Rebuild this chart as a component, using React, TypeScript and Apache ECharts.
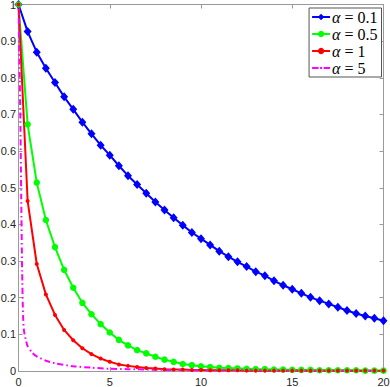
import React, { useEffect, useRef } from "react";
import * as echarts from "echarts";

const xHalf = [0, 0.5, 1, 1.5, 2, 2.5, 3, 3.5, 4, 4.5, 5, 5.5, 6, 6.5, 7, 7.5, 8, 8.5, 9, 9.5, 10, 10.5, 11, 11.5, 12, 12.5, 13, 13.5, 14, 14.5, 15, 15.5, 16, 16.5, 17, 17.5, 18, 18.5, 19, 19.5, 20];

const blueY = [1, 0.926, 0.87, 0.826, 0.787, 0.748, 0.714, 0.679, 0.647, 0.616, 0.589, 0.56, 0.533, 0.509, 0.485, 0.461, 0.439, 0.418, 0.398, 0.378, 0.361, 0.344, 0.327, 0.312, 0.298, 0.285, 0.271, 0.26, 0.246, 0.234, 0.223, 0.212, 0.201, 0.192, 0.183, 0.174, 0.165, 0.157, 0.15, 0.144, 0.137];

const greenY = [1, 0.673, 0.514, 0.412, 0.338, 0.276, 0.227, 0.186, 0.155, 0.128, 0.105, 0.085, 0.07, 0.057, 0.048, 0.039, 0.031, 0.025, 0.019, 0.016, 0.013, 0.011, 0.009, 0.008, 0.007, 0.006, 0.005, 0.005, 0.004, 0.004, 0.003, 0.003, 0.003, 0.002, 0.002, 0.002, 0.002, 0.002, 0.001, 0.001, 0.001];

const redY = [1, 0.464, 0.292, 0.209, 0.153, 0.112, 0.084, 0.062, 0.046, 0.034, 0.025, 0.018, 0.014, 0.011, 0.008, 0.007, 0.005, 0.004, 0.004, 0.003, 0.003, 0.002, 0.002, 0.002, 0.002, 0.001, 0.001, 0.001, 0.001, 0.001, 0.001, 0.001, 0.001, 0.001, 0.001, 0.001, 0.001, 0.001, 0.001, 0.001, 0.001];

const magentaX = [0, 0.05, 0.1, 0.15, 0.2, 0.25, 0.3, 0.4, 0.5, 0.75, 1, 1.5, 2, 3, 4, 5, 6, 8, 10, 12, 15, 20];
const magentaY = [1, 0.85, 0.69, 0.47, 0.27, 0.15, 0.11, 0.085, 0.068, 0.05, 0.04, 0.028, 0.021, 0.013, 0.009, 0.006, 0.005, 0.003, 0.002, 0.002, 0.001, 0.001];

const seriesNames = ["α = 0.1", "α = 0.5", "α = 1", "α = 5"];

const pairs = (xs: number[], ys: number[]) => xs.map((x, i) => [x, ys[i]]);

const dashDotIcon = "path://M0,0H6.5V2H0Z M8,0H10V2H8Z M11.5,0H18V2H11.5Z";

export default function App() {
  const ref = useRef<HTMLDivElement>(null);
  useEffect(() => {
    if (!ref.current) return;
    const chart = echarts.init(ref.current, null, { renderer: "svg" });
    const axisColor = "#9a9a9a";
    const labelStyle = { color: "#262626", fontSize: 11, fontFamily: "Liberation Sans, Arial, sans-serif" };
    const serif = "'Liberation Serif', 'DejaVu Serif', serif";
    chart.setOption({
      animation: false,
      backgroundColor: "#ffffff",
      grid: { left: 18.5, right: 6.5, top: 4.5, bottom: 16, containLabel: false, outerBoundsMode: "none" },
      legend: {
        orient: "vertical",
        right: 8.5,
        top: 8,
        backgroundColor: "#ffffff",
        borderColor: "#555555",
        borderWidth: 1,
        borderRadius: 0,
        padding: [1, 4, 1, 2],
        itemWidth: 18,
        itemHeight: 8,
        itemGap: 1,
        symbolKeepAspect: true,
        data: [
          { name: seriesNames[0] },
          { name: seriesNames[1] },
          { name: seriesNames[2] },
          { name: seriesNames[3], icon: dashDotIcon, itemStyle: { color: "#ff00ff" } },
        ],
        formatter: (name: string) => `{i|α}{t|${name.slice(1)}}`,
        textStyle: {
          color: "#000",
          fontFamily: serif,
          fontSize: 16,
          padding: [0, 0, 0, -3],
          rich: {
            i: { fontFamily: serif, fontStyle: "italic", fontSize: 16, color: "#000", lineHeight: 17 },
            t: { fontFamily: serif, fontSize: 16, color: "#000", lineHeight: 17 },
          },
        },
      },
      xAxis: [
        {
          type: "value",
          min: 0,
          max: 20,
          interval: 5,
          axisLine: { show: true, onZero: false, lineStyle: { color: axisColor, width: 1 } },
          axisTick: { show: true, inside: true, length: 4, lineStyle: { color: axisColor } },
          axisLabel: { ...labelStyle, margin: 5 },
          splitLine: { show: false },
        },
        {
          type: "value",
          position: "top",
          min: 0,
          max: 20,
          interval: 5,
          axisLine: { show: true, onZero: false, lineStyle: { color: axisColor, width: 1 } },
          axisTick: { show: true, inside: true, length: 4, lineStyle: { color: axisColor } },
          axisLabel: { show: false },
          splitLine: { show: false },
        },
      ],
      yAxis: [
        {
          type: "value",
          min: 0,
          max: 1,
          interval: 0.1,
          axisLine: { show: true, onZero: false, lineStyle: { color: axisColor, width: 1 } },
          axisTick: { show: true, inside: true, length: 4, lineStyle: { color: axisColor } },
          axisLabel: { ...labelStyle, margin: 2.5 },
          splitLine: { show: false },
        },
        {
          type: "value",
          position: "right",
          min: 0,
          max: 1,
          interval: 0.1,
          axisLine: { show: true, onZero: false, lineStyle: { color: axisColor, width: 1 } },
          axisTick: { show: true, inside: true, length: 4, lineStyle: { color: axisColor } },
          axisLabel: { show: false },
          splitLine: { show: false },
        },
      ],
      series: [
        {
          name: seriesNames[0],
          type: "line",
          data: pairs(xHalf, blueY),
          symbol: "diamond",
          symbolSize: [8, 9],
          lineStyle: { color: "#0000ff", width: 2 },
          itemStyle: { color: "#0000ff" },
        },
        {
          name: seriesNames[1],
          type: "line",
          data: pairs(xHalf, greenY),
          symbol: "circle",
          symbolSize: 6.5,
          lineStyle: { color: "#00ff00", width: 2 },
          itemStyle: { color: "#00ff00" },
        },
        {
          name: seriesNames[2],
          type: "line",
          data: pairs(xHalf, redY),
          symbol: "circle",
          symbolSize: 4,
          lineStyle: { color: "#ff0000", width: 2 },
          itemStyle: { color: "#ff0000" },
        },
        {
          name: seriesNames[3],
          type: "line",
          data: pairs(magentaX, magentaY),
          showSymbol: false,
          symbol: "none",
          smooth: 0.2,
          lineStyle: { color: "#ff00ff", width: 2, type: [6, 3, 1.5, 3] },
          itemStyle: { color: "#ff00ff" },
        },
      ],
    });
    return () => chart.dispose();
  }, []);
  return (
    <div
      ref={ref}
      style={{ position: "absolute", left: 0, top: 0, width: 390, height: 387, background: "#fff" }}
    />
  );
}
